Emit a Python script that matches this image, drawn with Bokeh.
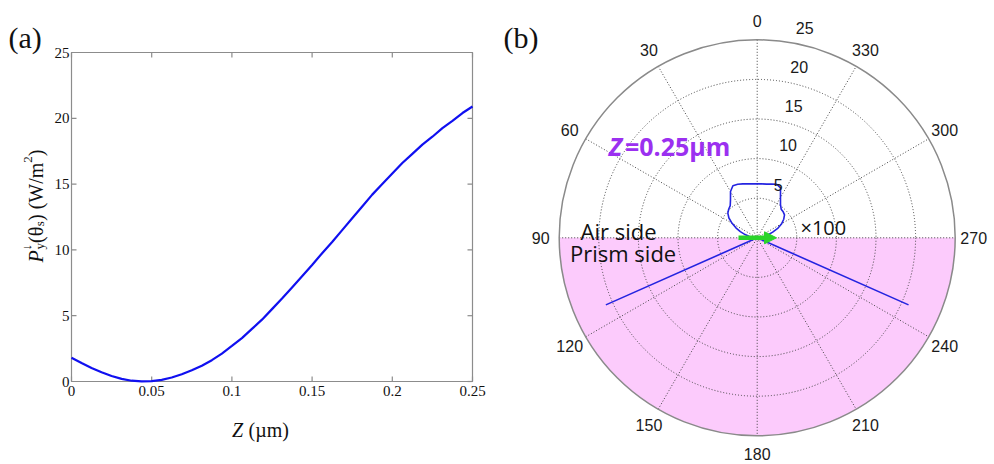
import math
from bokeh.plotting import figure
from bokeh.layouts import row
from bokeh.models import Label, Arrow, NormalHead, Range1d
from bokeh.embed import file_html
from bokeh.resources import INLINE
from bokeh.core.properties import value

# ---------------- data: panel (a) ----------------
z_um = [0, 0.00625, 0.0125, 0.01875, 0.025, 0.03125, 0.0375, 0.04375, 0.05, 0.05625, 0.0625,
        0.06875, 0.075, 0.08125, 0.0875, 0.09375, 0.1, 0.10625, 0.1125, 0.11875, 0.125,
        0.13125, 0.1375, 0.14375, 0.15, 0.15625, 0.1625, 0.16875, 0.175, 0.18125, 0.1875,
        0.19375, 0.2, 0.20625, 0.2125, 0.21875, 0.225, 0.23125, 0.2375, 0.24375, 0.25]
p_down = [1.8, 1.4, 1.02, 0.7, 0.42, 0.2, 0.06, 0.01, 0.03, 0.12, 0.3,
          0.55, 0.85, 1.2, 1.62, 2.12, 2.7, 3.3, 4.0, 4.7, 5.5,
          6.3, 7.15, 8.0, 8.85, 9.75, 10.6, 11.5, 12.4, 13.3, 14.2,
          15.0, 15.8, 16.6, 17.3, 18.0, 18.6, 19.25, 19.8, 20.4, 20.9]
x_ticks = [0, 0.05, 0.1, 0.15, 0.2, 0.25]
x_tick_labels = ["0", "0.05", "0.1", "0.15", "0.2", "0.25"]
y_ticks = [0, 5, 10, 15, 20, 25]
y_tick_labels = ["0", "5", "10", "15", "20", "25"]

# ---------------- data: panel (b) ----------------
# angle measured counter-clockwise from the top (0 deg), in degrees
air_theta = [-90, -85, -80, -75, -70, -65, -60, -55, -50, -45, -40, -35, -30, -25, -20, -15, -10, -5,
             0, 5, 10, 15, 20, 25, 30, 35, 40, 45, 50, 55, 60, 65, 70, 75, 80, 85, 90]
air_P = [0.0, 0.0044, 0.0088, 0.0139, 0.0208, 0.029, 0.0357, 0.0409, 0.045, 0.0464, 0.0471, 0.0513,
         0.0588, 0.0696, 0.072, 0.0702, 0.0688, 0.0683,
         0.0682, 0.0684, 0.0692, 0.0705, 0.072, 0.0726, 0.0674, 0.0588, 0.053, 0.0509, 0.0484,
         0.0436, 0.0366, 0.0297, 0.0227, 0.0158, 0.01, 0.005, 0.0]
air_scale = 100
prism_theta = [90, 113.0, 113.9, 114.8, 245.2, 246.1, 247.0, 270]
prism_P = [0, 0, 20.9, 0, 0, 20.9, 0, 0]
ring_values = [5, 10, 15, 20, 25]
ring_labels = ["5", "10", "15", "20", "25"]
angle_ticks = [0, 30, 60, 90, 120, 150, 180, 210, 240, 270, 300, 330]
angle_labels = [str(a) for a in angle_ticks]
r_max = 25

# ---------------- panel (a) ----------------
WA, HA = 497, 464
FL, FR, FT, FB = 71, 472, 52, 381          # frame box in canvas pixels
X0, X1, Y0, Y1 = 0.0, 0.25, 0.0, 25.0
SERIF = "Liberation Serif"
GRAY = "#8c8c8c"
INK = "#111111"


def ax_a(px):
    return X0 + (px - FL) / (FR - FL) * (X1 - X0)


def ay_a(py):
    return Y0 + (FB - py) / (FB - FT) * (Y1 - Y0)


pa = figure(width=WA, height=HA, x_range=Range1d(ax_a(0), ax_a(WA)), y_range=Range1d(ay_a(HA), ay_a(0)),
            x_axis_type=None, y_axis_type=None, min_border=0,
            min_border_left=0, min_border_right=0, min_border_top=0, min_border_bottom=0,
            output_backend="svg", toolbar_location=None)
pa.outline_line_color = None
pa.grid.visible = False

# axes box
pa.quad(left=[X0], right=[X1], bottom=[Y0], top=[Y1], fill_color=None, line_color=GRAY, line_width=1.2)
# inward ticks on all four sides
TL = 5
dx_t = ax_a(FL + TL) - ax_a(FL)
dy_t = ay_a(FB - TL) - ay_a(FB)
pa.segment(x_ticks, [Y0] * len(x_ticks), x_ticks, [Y0 + dy_t] * len(x_ticks), line_color=GRAY, line_width=1.2)
pa.segment(x_ticks, [Y1] * len(x_ticks), x_ticks, [Y1 - dy_t] * len(x_ticks), line_color=GRAY, line_width=1.2)
pa.segment([X0] * len(y_ticks), y_ticks, [X0 + dx_t] * len(y_ticks), y_ticks, line_color=GRAY, line_width=1.2)
pa.segment([X1] * len(y_ticks), y_ticks, [X1 - dx_t] * len(y_ticks), y_ticks, line_color=GRAY, line_width=1.2)
# tick labels
pa.text(x_ticks, [ay_a(FB + 4)] * len(x_ticks), text=x_tick_labels, text_font=value(SERIF),
        text_font_size="15px", text_color=INK, text_align="center", text_baseline="top")
pa.text([ax_a(FL - 2)] * len(y_ticks), y_ticks, text=y_tick_labels, text_font=value(SERIF),
        text_font_size="15px", text_color=INK, text_align="right", text_baseline="middle")

pa.line(z_um, p_down, line_color="#1010f0", line_width=2.2)


def lab_a(px, py, text, size="20px", style="normal", angle=0.0):
    pa.add_layout(Label(x=ax_a(px), y=ay_a(py), text=text, text_font=SERIF,
                        text_font_size=size, text_font_style=style, text_color=INK,
                        text_align="left", text_baseline="alphabetic", angle=angle))


# panel tag
lab_a(8, 37, "(a)", size="30px")
# x-axis title: Z (µm)
lab_a(231.5, 429.5, "Z", style="italic")
lab_a(248, 429.5, "(µm)")
# y-axis title: P_y^↓(θ_s) (W/m²), rotated
R = math.pi / 2
BX = 35
lab_a(BX, 262, "P", style="italic", angle=R)
lab_a(BX + 4, 249, "y", size="13px", angle=R)
lab_a(BX - 9, 250, "↓", size="13px", angle=R)
lab_a(BX, 242.5, "(θ", angle=R)
lab_a(BX + 4, 225.8, "s", size="13px", angle=R)
lab_a(BX, 220.5, ") (W/m", angle=R)
lab_a(BX - 8, 162.2, "2", size="13px", angle=R)
lab_a(BX, 155.7, ")", angle=R)

# ---------------- panel (b) ----------------
WB, HB = 497, 464
CX, CY = 259.7, 237.3
S = 198.0 / r_max
SANS = "Liberation Sans"

pb = figure(width=WB, height=HB,
            x_range=Range1d(-CX / S, (WB - CX) / S), y_range=Range1d(-(HB - CY) / S, CY / S),
            x_axis_type=None, y_axis_type=None, min_border=0,
            min_border_left=0, min_border_right=0, min_border_top=0, min_border_bottom=0,
            output_backend="svg", toolbar_location=None)
pb.outline_line_color = None
pb.grid.visible = False


def bx(px):
    return (px - CX) / S


def by(py):
    return (CY - py) / S


def pol(theta_deg, r):
    t = math.radians(theta_deg)
    return -r * math.sin(t), r * math.cos(t)


# prism side shading
pb.wedge(x=0, y=0, radius=r_max, start_angle=math.pi, end_angle=2 * math.pi,
         fill_color="#FCCBFC", line_color=None)
# dotted rings
pb.circle(x=[0] * (len(ring_values) - 1), y=[0] * (len(ring_values) - 1), radius=ring_values[:-1],
          fill_color=None, line_color="#444444", line_width=1, line_dash="1 2")
# dotted spokes
sx0, sy0, sx1, sy1 = [], [], [], []
for a in angle_ticks[:6]:
    x0, y0 = pol(a, r_max)
    x1, y1 = pol(a + 180, r_max)
    sx0.append(x0); sy0.append(y0); sx1.append(x1); sy1.append(y1)
pb.segment(sx0, sy0, sx1, sy1, line_color="#444444", line_width=1, line_dash="1 2")
# outer circle
pb.circle(x=0, y=0, radius=r_max, fill_color=None, line_color="#8a8a8a", line_width=1.5)

# pattern curve
cx_, cy_ = [], []
for t, v in zip(air_theta, air_P):
    x, y = pol(t, v * air_scale)
    cx_.append(x); cy_.append(y)
for t, v in zip(prism_theta, prism_P):
    x, y = pol(t, v)
    cx_.append(x); cy_.append(y)
pb.line(cx_, cy_, line_color="#2424e0", line_width=1.6)

# green arrow
GREEN = "#2ad42a"
pb.add_layout(Arrow(x_start=bx(738 - WA), y_start=0, x_end=bx(776 - WA), y_end=0,
                    line_color=GREEN, line_width=4.5,
                    end=NormalHead(size=12, fill_color=GREEN, line_color=GREEN, line_width=1)))

# angle labels
R_LAB = 216.5 / S
axs, ays = zip(*[pol(a, R_LAB) for a in angle_ticks])
pb.text(list(axs), list(ays), text=angle_labels, text_font=value(SANS), text_font_size="16px",
        text_color="#1a1a1a", text_align="center", text_baseline="middle")
# ring labels
rxs, rys = zip(*[pol(-8, r) for r in ring_values])
pb.text(list(rxs), list(rys), text=ring_labels, text_font=value(SANS), text_font_size="16px",
        text_color="#1a1a1a", text_align="left", text_baseline="middle", x_offset=11, y_offset=-14)


def lab_b(px, py, text, font="Open Sans", size="22px", style="normal", color="#111111"):
    pb.add_layout(Label(x=bx(px - WA), y=by(py), text=text, text_font=font, text_font_size=size,
                        text_font_style=style, text_color=color, text_align="left",
                        text_baseline="alphabetic"))


lab_b(503, 37, "(b)", font=SERIF, size="30px")
lab_b(580, 230.7, "Air side")
lab_b(569.5, 252.5, "Prism side")
lab_b(800, 226.7, "×100", size="20px")
PURPLE = "#9b30f0"
lab_b(608.3, 145, "Z", size="25px", style="bold italic", color=PURPLE)
lab_b(624.5, 145, "=0.25µm", size="25px", style="bold", color=PURPLE)

layout = row(pa, pb)
open("out.html", "w").write(file_html(layout, INLINE))
